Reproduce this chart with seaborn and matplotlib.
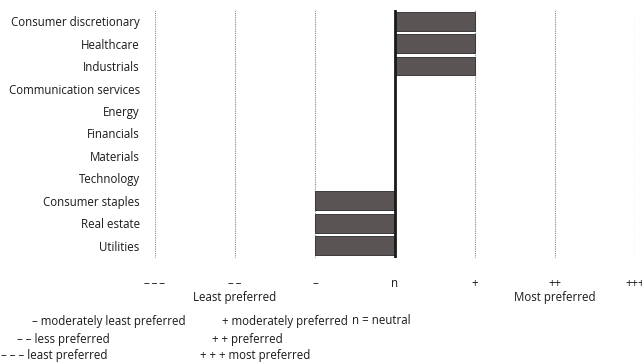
import matplotlib
matplotlib.use("Agg")
import matplotlib.pyplot as plt
import seaborn as sns
import pandas as pd

sectors = ["Consumer discretionary", "Healthcare", "Industrials", "Communication services",
           "Energy", "Financials", "Materials", "Technology", "Consumer staples",
           "Real estate", "Utilities"]
scores = [1, 1, 1, 0, 0, 0, 0, 0, -1, -1, -1]
tick_values = [-3, -2, -1, 0, 1, 2, 3]
tick_labels = ["\u2013\u2009\u2013\u2009\u2013", "\u2013\u2009\u2013", "\u2013", "n", "+", "++", "+++"]

sns.set_theme(style="white")
FONT = "Open Sans"
plt.rcParams["font.family"] = [FONT, "DejaVu Sans"]
FS = 8.3
TC = "#1a1a1a"

df = pd.DataFrame({"sector": sectors, "score": scores})

fig = plt.figure(figsize=(6.42, 3.62), dpi=100)
ax = fig.add_axes([155/642, 1-258/362, 480/642, 248/362])

sns.barplot(data=df, x="score", y="sector", orient="h", color="#5a5454",
            saturation=1, width=0.83, edgecolor="#2a2a2a", linewidth=0.6, ax=ax)

for v in tick_values:
    if v != 0:
        ax.axvline(v, color="#8a8a8a", linestyle=(0, (1, 1)), linewidth=0.8, zorder=0)
ax.axvline(0, color="#1a1a1a", linewidth=2.0, zorder=3)

ax.set_xlim(-3, 3)
ax.set_ylim(10.55, -0.5)
for s in ax.spines.values():
    s.set_visible(False)
ax.set_xlabel("")
ax.set_ylabel("")
ax.set_xticks(tick_values)
ax.set_xticklabels(tick_labels, fontsize=FS, color=TC)
ax.tick_params(axis="x", length=0, pad=14)
ax.tick_params(axis="y", length=0, pad=11, labelsize=FS, labelcolor=TC)

fig.text(235/642, 1-298/362, "Least preferred", ha="center", va="center", fontsize=FS, color=TC)
fig.text(555/642, 1-298/362, "Most preferred", ha="center", va="center", fontsize=FS, color=TC)

legend_rows = [
    (32, 321, "\u2013 moderately least preferred"),
    (17, 339, "\u2013 \u2013 less preferred"),
    (1, 356, "\u2013 \u2013 \u2013 least preferred"),
    (222, 321, "+ moderately preferred"),
    (212, 339, "+ + preferred"),
    (200, 356, "+ + + most preferred"),
    (352, 321, "n = neutral"),
]
for x, y, t in legend_rows:
    fig.text(x/642, 1-y/362, t, ha="left", va="center", fontsize=FS, color=TC)

fig.savefig("out.png", dpi=100)
